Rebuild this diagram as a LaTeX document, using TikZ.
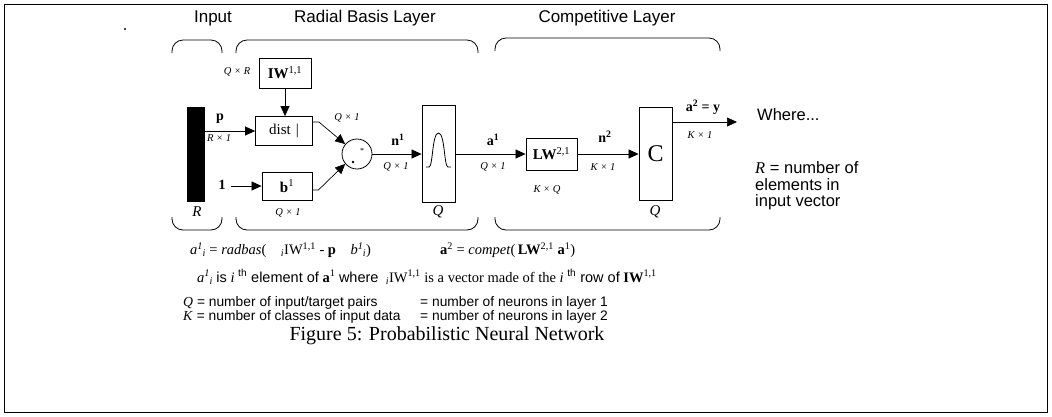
\documentclass[tikz,border=0pt]{standalone}
\usepackage{fontspec}
\setmainfont{Liberation Serif}
\newfontfamily\arial{Liberation Sans}
\usetikzlibrary{arrows.meta,calc}
\newcommand\supsub[2]{\textsuperscript{#1}\kern-0.5pt\textsubscript{#2}}
\begin{document}
\begin{tikzpicture}[x=1pt,y=-1pt,
  title/.style={font=\arial\fontsize{17}{19}\selectfont, inner sep=0},
  side/.style={font=\arial\fontsize{16.5}{16}\selectfont, inner sep=0, align=left},
  dimlab/.style={font=\fontsize{10.5}{11}\selectfont\itshape, inner sep=0},
  sig/.style={font=\fontsize{14}{15}\selectfont\bfseries, inner sep=0},
  blk/.style={draw, line width=0.8pt, inner sep=0},
  arr/.style={-{Triangle[length=10pt,width=9pt]}, line width=0.7pt},
  brk/.style={line width=0.8pt, rounded corners=11pt},
  bottom/.style={font=\fontsize{14.5}{15}\selectfont, inner sep=0, anchor=west},
  defs/.style={font=\arial\fontsize{13.8}{14}\selectfont, inner sep=0, anchor=west},
]
\useasboundingbox (0,0) rectangle (1052,416);
% frame
\draw[line width=0.8pt] (4,4) rectangle (1047,412);
\fill (125,29) circle (1.2pt);

% titles
\node[title] (tin) at (213,18) {Input};
\node[title] (trb) at (365,18) {Radial Basis Layer};
\node[title] (tcl) at (607,18) {Competitive Layer};

% brackets
\draw[brk] (172,53) -- (172,40) -- (222,40) -- (222,53);
\draw[brk] (172,217) -- (172,230) -- (222,230) -- (222,217);
\draw[brk] (236,53) -- (236,40) -- (478,40) -- (478,53);
\draw[brk] (236,217) -- (236,230) -- (478,230) -- (478,217);
\draw[brk] (495,51) -- (495,38) -- (720,38) -- (720,51);
\draw[brk] (495,217) -- (495,230) -- (720,230) -- (720,217);

% input bar
\node[fill=black, minimum width=18pt, minimum height=95pt, inner sep=0] (bar) at (196,154.5) {};
\node[font=\fontsize{15}{16}\selectfont\itshape, inner sep=0] (rlab) at (197,212) {R};

% IW and dist
\node[blk, minimum width=52pt, minimum height=30pt, font=\fontsize{15}{16}\selectfont] (iw) at (285,73) {\textbf{IW}\textsuperscript{1,1}};
\node[dimlab] (qr) at (237,72) {Q × R};
\node[blk, minimum width=57pt, minimum height=29pt, font=\fontsize{15}{16}\selectfont] (dist) at (284,131) {dist\hspace{5pt}|};
\draw[arr] (iw.south) -- (iw.south |- dist.north);
\node[sig] (p) at (220,119) {p};
\node[dimlab] (rx1) at (219,138) {R × 1};
\draw[arr] (bar.east |- dist.west) -- (dist.west);

% bias
\node[blk, minimum width=50pt, minimum height=28pt, font=\fontsize{15}{16}\selectfont] (b) at (287,186) {\textbf{b}\textsuperscript{1}};
\node[sig] (one) at (222,185) {1};
\draw[arr] ($(one.east)+(5,1)$) -- (b.west);
\node[dimlab] (qx1b) at (288,213) {Q × 1};

% sum node
\node[draw, circle, line width=0.8pt, minimum size=30pt, inner sep=0] (sum) at (357,154) {};
\fill (353,162) circle (1.4pt);
\node[font=\fontsize{8}{8}\selectfont, inner sep=0] (star) at (362,151) {*};
\node[dimlab] (qx1d) at (347,118) {Q × 1};
\draw[arr] ($(dist.east)+(0,-9)$) -- ++(6,0) -- (sum.140);
\draw[arr] ($(b.east)+(0,4)$) -- ++(6,0) -- (sum.220);

% radbas
\node[blk, minimum width=33pt, minimum height=97pt] (rb) at (438.5,154) {};
\draw[line width=0.8pt] (426,167) -- (429,167) .. controls (433,167) and (432,133) .. (438.5,133) .. controls (445,133) and (444,167) .. (448,167) -- (451,167);
\node[font=\fontsize{15}{16}\selectfont\itshape, inner sep=0] (qrb) at (438,212) {Q};
\draw[arr] (sum.east) -- (rb.west);
\node[sig] (n1) at (398,140) {n\textsuperscript{1}};
\node[dimlab] (qx1n) at (396,167) {Q × 1};

% LW
\node[blk, minimum width=51pt, minimum height=32pt, font=\fontsize{15}{16}\selectfont] (lw) at (551.5,154) {\textbf{LW}\textsuperscript{2,1}};
\draw[arr] (rb.east) -- (lw.west);
\node[sig] (a1) at (493,140) {a\textsuperscript{1}};
\node[dimlab] (qx1a) at (493,167) {Q × 1};
\node[dimlab] (kq) at (547,190) {K × Q};

% compet
\node[blk, minimum width=33pt, minimum height=93pt, font=\fontsize{24}{24}\selectfont] (c) at (655.5,154) {C};
\draw[arr] (lw.east) -- (c.west);
\node[sig] (n2) at (605,137) {n\textsuperscript{2}};
\node[dimlab] (kx1n) at (603,167) {K × 1};
\node[font=\fontsize{15}{16}\selectfont\itshape, inner sep=0] (qc) at (655,212) {Q};
\coordinate (out) at (737,122);
\draw[arr] (c.east |- out) -- (out);
\node[sig] (a2) at (703,107) {a\textsuperscript{2} = y};
\node[dimlab] (kx1o) at (700,135) {K × 1};

% side text
\node[side, anchor=west] (where) at (757,115) {Where...};
\node[side, anchor=west] (rdef1) at (755,168) {\textit{\rmfamily R} = number of};
\node[side, anchor=west] (rdef2) at (755,185) {elements in};
\node[side, anchor=west] (rdef3) at (755,202) {input vector};

% equations
\node[bottom] (eq1) at (190,250) {\textit{a}\supsub{\itshape 1}{\itshape i} = \textit{radbas}(\quad\textsubscript{\itshape i}IW\textsuperscript{1,1} - \textbf{p}\quad \textit{b}\supsub{\itshape 1}{\itshape i})};
\node[bottom] (eq2) at (440,250) {\textbf{a}\textsuperscript{2} = \textit{compet}(\,\textbf{LW}\textsuperscript{2,1} \textbf{a}\textsuperscript{1})};
\node[bottom] (line2) at (197,277) {\textit{a}\supsub{\itshape 1}{\itshape i} {\arial is} \textit{i} {\arial\textsuperscript{th} element of} \textbf{a}\textsuperscript{1} {\arial where} \ \textsubscript{\itshape i}IW\textsuperscript{1,1} is a vector made of the \textit{i} {\arial\textsuperscript{th} row of} \textbf{IW}\textsuperscript{1,1}};
\node[defs] (qdef) at (183,303) {\textit{\rmfamily Q} = number of input/target pairs};
\node[defs] (qdef2) at (420,303) {= number of neurons in layer 1};
\node[defs] (kdef) at (183,317) {\textit{\rmfamily K} = number of classes of input data};
\node[defs] (kdef2) at (420,317) {= number of neurons in layer 2};
\node[font=\fontsize{20}{22}\selectfont, inner sep=0] (cap) at (447,336) {Figure 5: Probabilistic Neural Network};
\end{tikzpicture}
\end{document}
